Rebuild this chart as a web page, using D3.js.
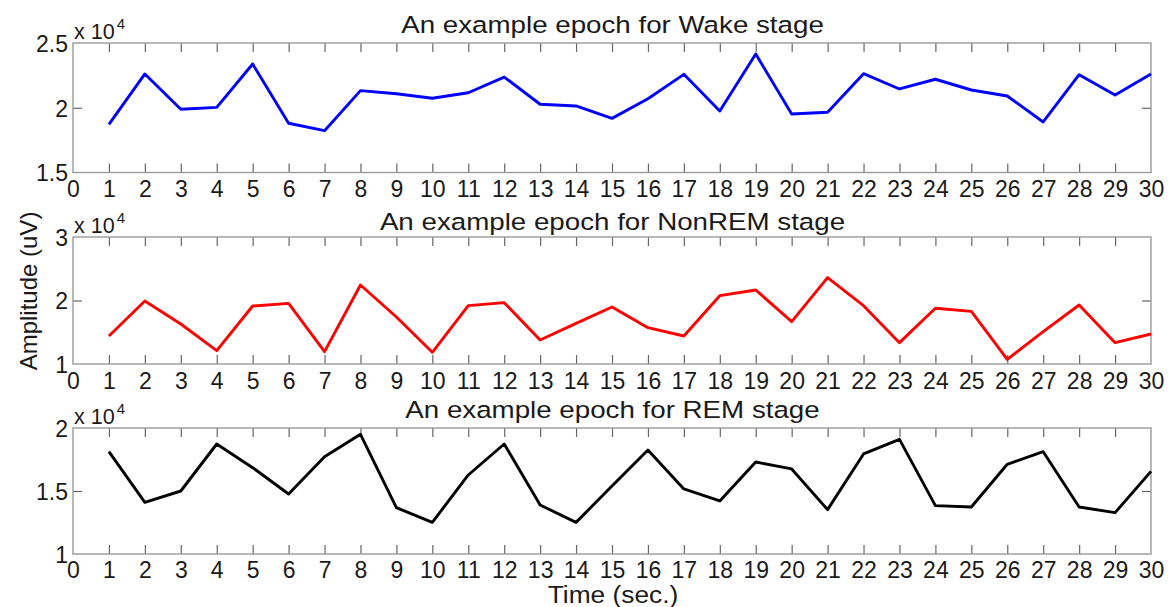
<!DOCTYPE html>
<html>
<head>
<meta charset="utf-8">
<script src="https://cdn.jsdelivr.net/npm/d3@7"></script>
<style>
  html, body { margin: 0; padding: 0; background: #fff; }
  svg { display: block; }
  text { font-family: "Liberation Sans", Arial, Helvetica, sans-serif; fill: #1a1a1a; }
</style>
</head>
<body>
<svg id="chart" width="1172" height="607"></svg>
<script>
// Time axis: one sample per second over a 30 s epoch
const seconds = d3.range(1, 31);
const timeTicks = d3.range(0, 31);

// Amplitude samples (uV) for each sleep stage
const wakeValues = [18720, 22610, 19880, 20030, 23380, 18800, 18230, 21320, 21080, 20730,
                    21160, 22370, 20270, 20140, 19180, 20700, 22580, 19750, 24150, 19520,
                    19650, 22630, 21450, 22200, 21370, 20910, 18900, 22550, 20980, 22610];
const nremValues = [14410, 19920, 16300, 12100, 19130, 19550, 11940, 22440, 17400, 11840,
                    19190, 19660, 13780, 16400, 18980, 15720, 14410, 20760, 21650, 16670,
                    23600, 19190, 13360, 18770, 18290, 10730, 15090, 19290, 13360, 14720];
const remValues  = [18120, 14100, 15000, 18730, 16850, 14760, 17720, 19500, 13680, 12510,
                    16270, 18730, 13890, 12510, 15400, 18250, 15160, 14210, 17300, 16750,
                    13520, 17940, 19100, 13840, 13730, 17120, 18120, 13730, 13280, 16560];

// Per-panel y-axis ticks, in units of 10^4 uV
const wakeTicks = [1.5, 2, 2.5];
const nremTicks = [1, 2, 3];
const remTicks  = [1, 1.5, 2];

const panels = [
  { title: "An example epoch for Wake stage",   values: wakeValues, ticks: wakeTicks, color: "#0000ff", top: 43,  bottom: 172.5, titleGap: 10, labelGap: 24.5 },
  { title: "An example epoch for NonREM stage", values: nremValues, ticks: nremTicks, color: "#ff0000", top: 237, bottom: 364,   titleGap: 7,  labelGap: 24.5 },
  { title: "An example epoch for REM stage",    values: remValues,  ticks: remTicks,  color: "#000000", top: 428, bottom: 554,   titleGap: 10, labelGap: 23.5 }
];

const svg = d3.select("#chart");
const left = 73, right = 1151;
const x = d3.scaleLinear().domain([0, 30]).range([left, right]);
const scale = 1e4;
const fmt = v => d3.format("~g")(v);
const axisGray = "#9a9a9a";
const tickLen = 9;
const tickFont = 23;

panels.forEach(p => {
  const y = d3.scaleLinear()
    .domain([p.ticks[0] * scale, p.ticks[p.ticks.length - 1] * scale])
    .range([p.bottom, p.top]);
  const g = svg.append("g");

  // Bottom axis: inward ticks plus labels below
  const xb = g.append("g").attr("transform", `translate(0,${p.bottom})`)
    .call(d3.axisBottom(x).tickValues(timeTicks).tickSize(-tickLen).tickPadding(p.labelGap).tickFormat(d3.format("d")));
  // Top axis mirrors the ticks without labels
  const xt = g.append("g").attr("transform", `translate(0,${p.top})`)
    .call(d3.axisTop(x).tickValues(timeTicks).tickSize(-tickLen).tickFormat(""));
  // Left axis with labels, right axis mirrored
  const yl = g.append("g").attr("transform", `translate(${left},0)`)
    .call(d3.axisLeft(y).tickValues(p.ticks.map(t => t * scale)).tickSize(-tickLen).tickPadding(5)
      .tickFormat(v => fmt(v / scale)));
  const yr = g.append("g").attr("transform", `translate(${right},0)`)
    .call(d3.axisRight(y).tickValues(p.ticks.map(t => t * scale)).tickSize(-tickLen).tickFormat(""));

  [xb, xt, yl, yr].forEach(a => {
    a.select(".domain").remove();
    a.selectAll(".tick line").attr("stroke", "#666").attr("stroke-width", 1.2);
    a.selectAll("text").attr("font-size", tickFont).attr("fill", "#1a1a1a");
  });
  xb.selectAll(".tick text").attr("dy", "0");
  yl.selectAll(".tick text").attr("dy", "0.36em");

  // Edge ticks at the box corners are hidden by the frame
  xb.selectAll(".tick").filter(d => d === 0 || d === 30).select("line").remove();
  xt.selectAll(".tick").filter(d => d === 0 || d === 30).select("line").remove();
  yl.selectAll(".tick").filter((d, i, n) => i === 0 || i === n.length - 1).select("line").remove();
  yr.selectAll(".tick").filter((d, i, n) => i === 0 || i === n.length - 1).select("line").remove();

  // Frame
  g.append("rect")
    .attr("x", left).attr("y", p.top)
    .attr("width", right - left).attr("height", p.bottom - p.top)
    .attr("fill", "none").attr("stroke", axisGray).attr("stroke-width", 1.4);

  // Exponent label
  const ex = g.append("text").attr("x", left + 1).attr("y", p.top - 4).attr("font-size", 21.5);
  ex.append("tspan").text("x 10");
  ex.append("tspan").attr("font-size", 15).attr("dx", 2).attr("dy", -10).text("4");

  // Title, drawn slightly wide
  g.append("text")
    .attr("transform", `translate(${(left + right) / 2 + 0.5},${p.top - p.titleGap}) scale(1.18,1)`)
    .attr("text-anchor", "middle").attr("font-size", 23.5)
    .text(p.title);

  // Signal trace
  const line = d3.line().x((d, i) => x(seconds[i])).y(d => y(d));
  g.append("path")
    .datum(p.values)
    .attr("d", line)
    .attr("fill", "none")
    .attr("stroke", p.color)
    .attr("stroke-width", 2.9)
    .attr("stroke-linejoin", "round");
});

// Shared axis titles
svg.append("text")
  .attr("transform", `translate(37,291) rotate(-90)`)
  .attr("text-anchor", "middle").attr("font-size", 24)
  .text("Amplitude (uV)");

svg.append("text")
  .attr("transform", "translate(613,603) scale(1.12,1)")
  .attr("text-anchor", "middle").attr("font-size", 23.5)
  .text("Time (sec.)");
</script>
</body>
</html>
